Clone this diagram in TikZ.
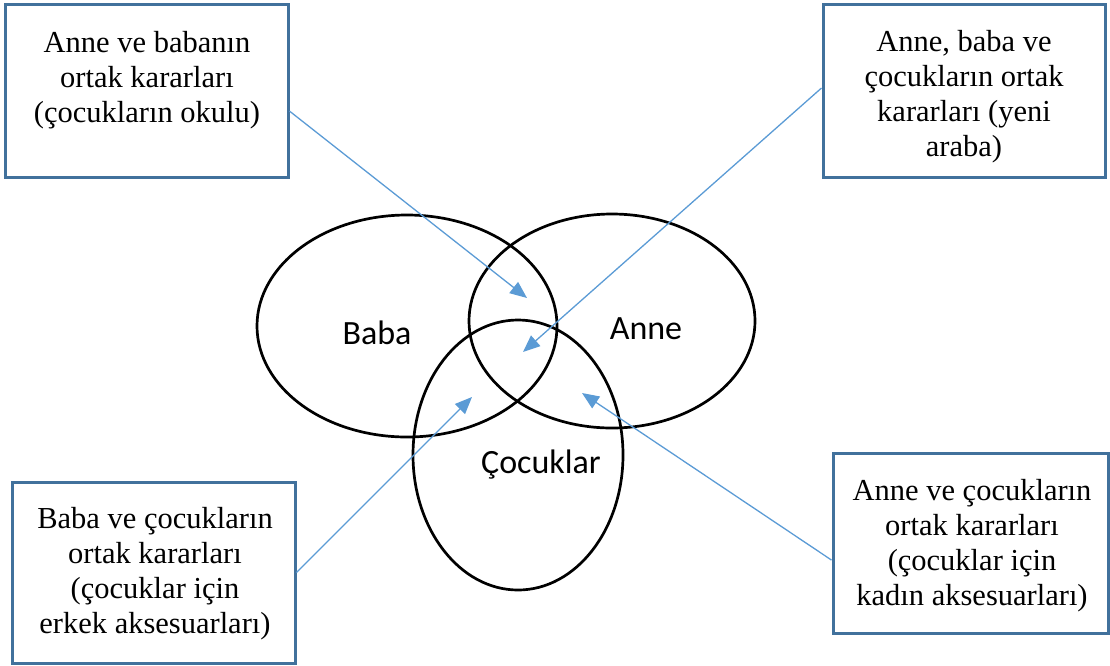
\documentclass[tikz,border=0pt]{standalone}
\usepackage{fontspec}
\setmainfont{Liberation Serif}
\newfontfamily\calib{Carlito}
\usetikzlibrary{arrows.meta}
\definecolor{boxblue}{HTML}{41719C}
\definecolor{arrblue}{HTML}{5B9BD5}
\tikzset{
  boxnode/.style={draw=boxblue, line width=3pt, fill=white, rectangle, inner sep=0pt},
  boxtext/.style={align=center, font=\fontsize{30.5}{35}\selectfont, inner sep=0pt},
  setline/.style={line width=2.7pt, black},
  setlabel/.style={font=\calib\fontsize{34}{40}\selectfont, inner sep=0pt},
  conn/.style={arrblue, line width=1.3pt, -{Triangle[length=17pt,width=14pt]}}
}
\begin{document}
\begin{tikzpicture}[x=1pt,y=-1pt]
\useasboundingbox (0,0) rectangle (1110,665);
% ellipses
\draw[setline] (407,326) ellipse [x radius=150pt, y radius=111pt];
\draw[setline] (612,321) ellipse [x radius=143pt, y radius=107pt];
\draw[setline] (518,455) ellipse [x radius=105pt, y radius=135pt];
\node[setlabel] (baba) at (377,333) {Baba};
\node[setlabel] (anne) at (646,329) {Anne};
\node[setlabel] (cocuk) at (541,465) {Çocuklar};
% boxes
\node[boxnode, minimum width=283pt, minimum height=173pt] (b1) at (146.5,91) {};
\node[boxtext] (t1) at (147,80) {Anne ve babanın\\ortak kararları\\(çocukların okulu)};
\node[boxnode, minimum width=282pt, minimum height=173pt] (b2) at (964,90.5) {};
\node[boxtext] (t2) at (964,97) {Anne, baba ve\\çocukların ortak\\kararları (yeni\\araba)};
\node[boxnode, minimum width=283pt, minimum height=181pt] (b3) at (153.5,572.5) {};
\node[boxtext] (t3) at (155,574) {Baba ve çocukların\\ortak kararları\\(çocuklar için\\erkek aksesuarları)};
\node[boxnode, minimum width=275pt, minimum height=180pt] (b4) at (970.5,543) {};
\node[boxtext] (t4) at (972,546) {Anne ve çocukların\\ortak kararları\\(çocuklar için\\kadın aksesuarları)};
% arrow tips
\coordinate (p1) at (527,298);
\coordinate (p2) at (523,352);
\coordinate (p3) at (472,397);
\coordinate (p4) at (582,393);
\draw[conn] (b1.-8) -- (p1);
\draw[conn] (b2.179) -- (p2);
\draw[conn] (b3.east) -- (p3);
\draw[conn] (b4.187) -- (p4);
\end{tikzpicture}
\end{document}
